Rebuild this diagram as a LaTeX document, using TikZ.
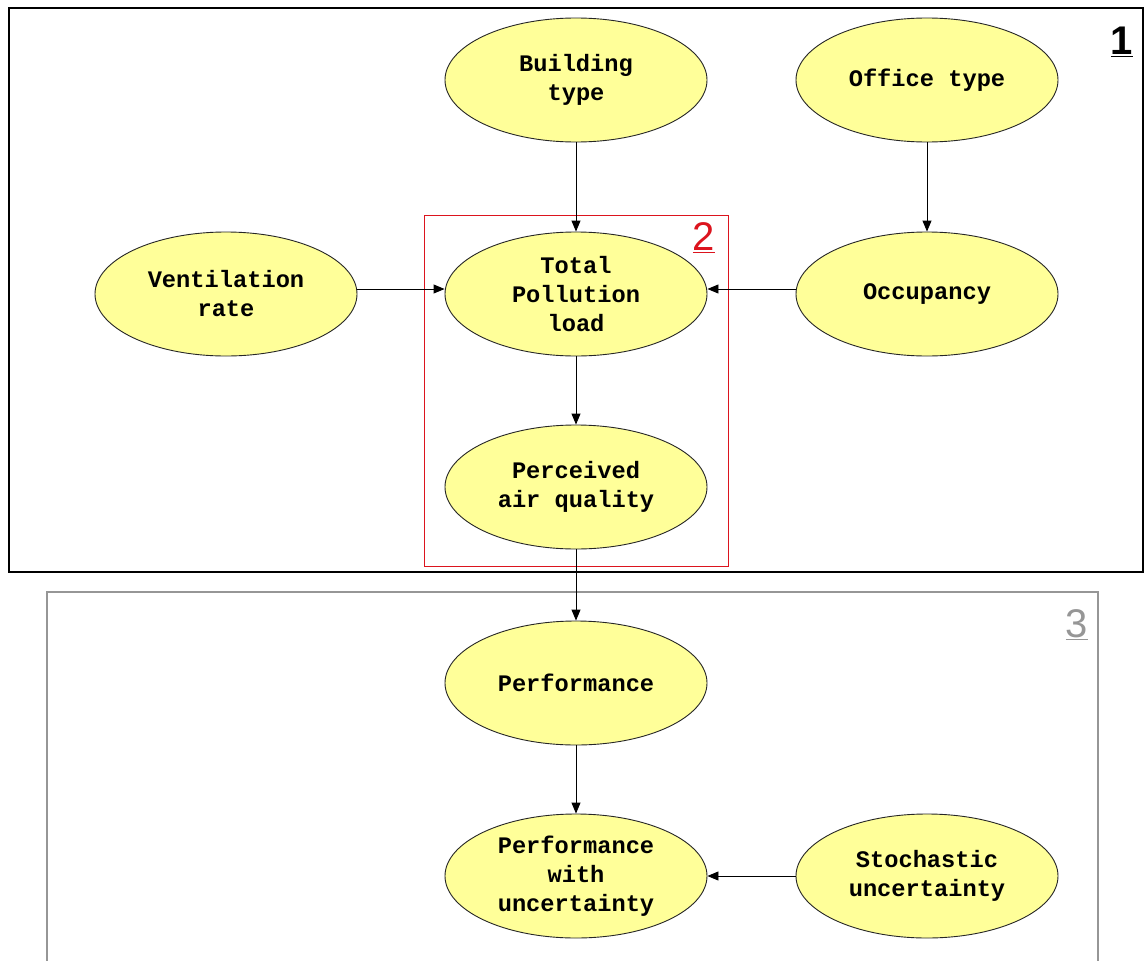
\documentclass[tikz,border=0pt]{standalone}
\usepackage{fontspec}
\setmainfont{Liberation Sans}
\newfontfamily\monob{Liberation Mono}[BoldFont={* Bold}]
\usetikzlibrary{shapes.geometric,arrows.meta}
\definecolor{nodefill}{RGB}{255,255,153}
\definecolor{redbox}{RGB}{220,20,30}
\definecolor{graybox}{RGB}{150,150,150}
\tikzset{
  var/.style={ellipse, draw=black!85, line width=0.9pt, fill=nodefill,
    minimum width=262pt, minimum height=124pt, inner sep=0pt, align=center,
    font=\monob\bfseries\fontsize{23.7}{29}\selectfont},
  arr/.style={-{Triangle[length=11pt,width=9pt]}, line width=0.9pt, black},
  tag/.style={inner sep=0pt, font=\fontsize{40}{42}\selectfont}
}
\begin{document}
\begin{tikzpicture}[x=1pt,y=-1pt]
\clip (0,0) rectangle (1146,961);
\fill[white] (0,0) rectangle (1146,961);
% boxes
\draw[black, line width=1.4pt] (9,8) rectangle (1143,572);
\draw[graybox, line width=1.4pt] (47,592) rectangle (1098,990);
\draw[redbox, line width=1pt] (424,215) rectangle (728,566);
% labels
\node[tag, font=\fontsize{40}{42}\selectfont\bfseries] (l1) at (1122,42) {\underline{1}};
\node[tag, text=redbox] (l2) at (704,238) {\underline{2}};
\node[tag, text=graybox] (l3) at (1077,625) {\underline{3}};
% nodes
\node[var] (build) at (576,80) {Building\\type};
\node[var] (office) at (927,80) {Office type};
\node[var] (vent) at (226,294) {Ventilation\\rate};
\node[var] (total) at (576,294) {Total\\Pollution\\load};
\node[var] (occ) at (927,294) {Occupancy};
\node[var] (pair) at (576,487) {Perceived\\air quality};
\node[var] (perf) at (576,683) {Performance};
\node[var] (pwu) at (576,876) {Performance\\with\\uncertainty};
\node[var] (stoch) at (927,876) {Stochastic\\uncertainty};
% connectors
\draw[arr] (build) -- (total);
\draw[arr] (office) -- (occ);
\draw[arr] ([yshift=5pt]vent.east) -- ([yshift=5pt]total.west);
\draw[arr] ([yshift=5pt]occ.west) -- ([yshift=5pt]total.east);
\draw[arr] (total) -- (pair);
\draw[arr] (pair) -- (perf);
\draw[arr] (perf) -- (pwu);
\draw[arr] (stoch) -- (pwu);
\end{tikzpicture}
\end{document}
